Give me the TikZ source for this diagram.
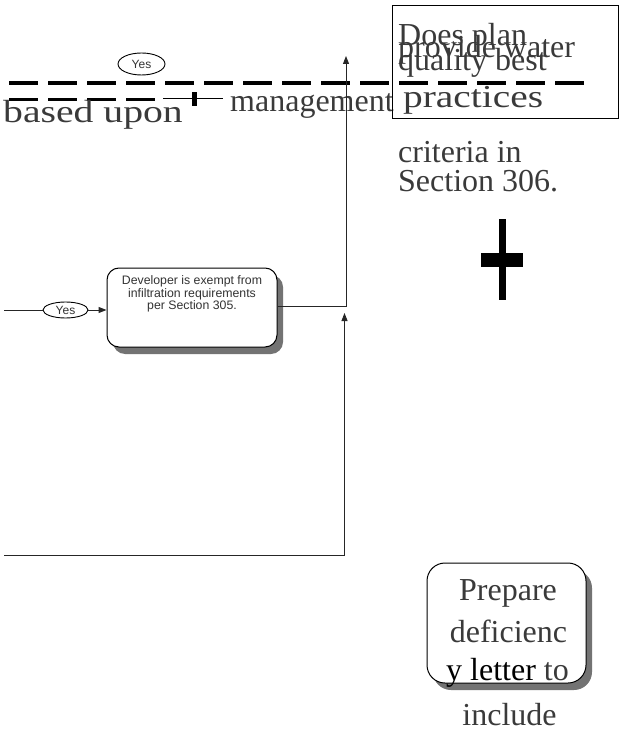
\documentclass[tikz,border=0pt]{standalone}
\usepackage{fontspec}
\setmainfont{Liberation Serif}
\newfontfamily\arialfont{Liberation Sans}
\usetikzlibrary{arrows.meta,shapes.geometric,shadows}
\definecolor{txtgray}{HTML}{3A3A3A}
\tikzset{
  bigtext/.style={font=\fontsize{32}{36}\selectfont, text=txtgray, inner sep=0pt, anchor=base west},
  yeslabel/.style={draw, ellipse, font=\arialfont\fontsize{12}{13}\selectfont, text=black!80, inner sep=0pt, line width=0.9pt},
  flowbox/.style={draw, fill=white, line width=1pt, inner sep=0pt,
    drop shadow={shadow xshift=6pt, shadow yshift=-7pt, fill=black!55, opacity=1}},
  flowline/.style={line width=1pt, draw=black!85},
  flowarrow/.style={flowline, -{Triangle[length=8pt,width=6pt]}},
  heavydash/.style={line width=3.5pt, dash pattern=on 29pt off 10pt},
}
\begin{document}
\begin{tikzpicture}[x=1pt,y=-1pt]
\useasboundingbox (0,0) rectangle (623,735);
% dashed rules at the top left
\draw[heavydash] (9,83)--(584,83);
\draw[heavydash] (9,99.5)--(155,99.5);
\draw[line width=1pt] (163,98.5)--(223,98.5);
\fill (192,92) rectangle (197,106);
\node[bigtext] (based) at (3,122.7) {\scalebox{1.24}[1]{based upon}};
\node[bigtext] (mgmt) at (230,112) {management};
\node[yeslabel, minimum width=47pt, minimum height=22pt] (yesA) at (141.5,64) {Yes};
% decision box on the right
\node[draw, line width=1.2pt, minimum width=226pt, minimum height=113pt, anchor=north west] (decbox) at (392,5) {};
\node[bigtext] (dec1) at (398,46) {Does plan};
\node[bigtext] (dec2) at (398,58) {provide water};
\node[bigtext] (dec3) at (398,71) {quality best};
\node[bigtext] (dec4) at (403,108) {\scalebox{1.23}[1]{practices}};
\node[bigtext] (dec5) at (398,163) {criteria in};
\node[bigtext] (dec6) at (398,192) {Section 306.};
\fill (499,219) rectangle (506,300);
\fill (481,253) rectangle (523,267);
% exempt branch
\node[yeslabel, minimum width=45pt, minimum height=16pt] (yesB) at (65.5,310) {Yes};
\node[flowbox, rounded corners=12pt, minimum width=170pt, minimum height=79pt] (devbox) at (192,307.5) {};
\node[font=\arialfont\fontsize{12.3}{12.8}\selectfont, align=center, text=black!80] (devtext) at (192,294)
  {Developer is exempt from\\infiltration requirements\\per Section 305.};
\coordinate (inB) at (4,310);
\coordinate (upturn) at (346,306);
\coordinate (uptip) at (346,56);
\draw[flowline] (inB)--(yesB.west);
\draw[flowarrow] (yesB.east)--(devbox.west |- yesB.east);
\draw[flowarrow] (devbox.east |- upturn)--(upturn)--(uptip);
% lower branch
\coordinate (inC) at (4,555);
\coordinate (lowturn) at (344.5,555);
\coordinate (lowtip) at (344.5,313);
\draw[flowarrow] (inC)--(lowturn)--(lowtip);
% deficiency letter box
\node[flowbox, rounded corners=18pt, minimum width=159pt, minimum height=120pt] (prepbox) at (506.5,623) {};
\node[bigtext, anchor=base] (prep1) at (508,600) {Prepare};
\node[bigtext, anchor=base] (prep2) at (508.5,642) {deficienc};
\node[bigtext, anchor=base] (prep3) at (507.5,680) {{\color{black}y letter} to};
\node[bigtext, anchor=base] (prep4) at (509.5,725) {include};
\end{tikzpicture}
\end{document}
